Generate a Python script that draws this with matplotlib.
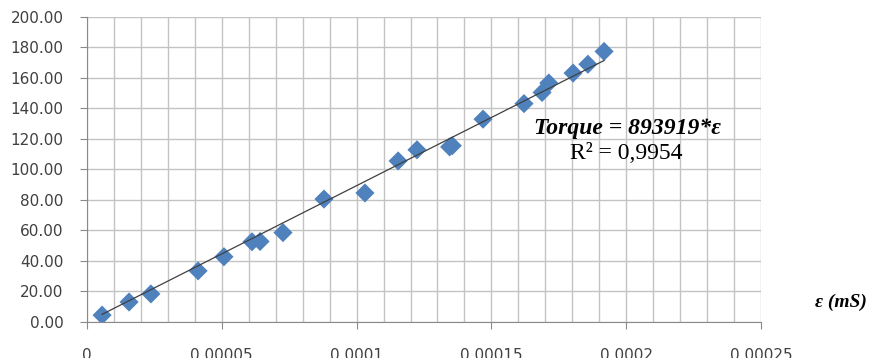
import matplotlib
matplotlib.use("Agg")
import matplotlib.pyplot as plt
import numpy as np
from matplotlib.ticker import MultipleLocator, FuncFormatter

strain = [5.6e-6, 1.56e-5, 2.37e-5, 4.12e-5, 5.08e-5, 6.12e-5, 6.42e-5, 7.27e-5,
          8.79e-5, 1.031e-4, 1.154e-4, 1.224e-4, 1.345e-4, 1.355e-4, 1.469e-4,
          1.621e-4, 1.688e-4, 1.713e-4, 1.803e-4, 1.858e-4, 1.918e-4]
torque = [4.5, 13.1, 18.4, 33.5, 42.8, 52.6, 52.8, 58.6,
          80.6, 84.6, 105.6, 112.9, 114.8, 115.6, 133.0,
          143.2, 150.5, 156.7, 163.2, 169.0, 177.4]
slope = 893919
x_ticks = [0, 0.00005, 0.0001, 0.00015, 0.0002, 0.00025]
x_tick_labels = ["0", "0.00005", "0.0001", "0.00015", "0.0002", "0.00025"]

fig = plt.figure(figsize=(8.7, 3.58), dpi=100)
ax = fig.add_axes([0.1, 0.1006, 0.7747, 0.852])

ax.set_xlim(0, 0.00025)
ax.set_ylim(0, 200)
ax.xaxis.set_minor_locator(MultipleLocator(0.00001))
ax.set_xticks(x_ticks)
ax.set_xticklabels(x_tick_labels)
ax.set_yticks(np.arange(0, 201, 20))
ax.yaxis.set_major_formatter(FuncFormatter(lambda v, p: f"{v:.2f}"))

ax.grid(True, which="both", axis="x", color="#c3c3c3", linewidth=1)
ax.grid(True, which="major", axis="y", color="#c3c3c3", linewidth=1)
ax.set_axisbelow(True)

for s in ["top", "right"]:
    ax.spines[s].set_visible(False)
for s in ["left", "bottom"]:
    ax.spines[s].set_color("#8a8a8a")

ax.tick_params(axis="x", which="major", length=5, color="#8a8a8a", pad=14,
               labelsize=11, labelcolor="#404040")
ax.tick_params(axis="x", which="minor", length=0)
ax.tick_params(axis="y", length=5, color="#8a8a8a", pad=12,
               labelsize=11, labelcolor="#404040")

ax.scatter(strain, torque, marker="D", s=95, color="#4f81bd", zorder=3,
           edgecolors="none")
xl = np.array([min(strain), max(strain)])
ax.plot(xl, slope * xl, color="#404040", linewidth=0.9, zorder=4)

ax.text(0.0002005, 127, "Torque = 893919*ε", fontfamily="Liberation Serif",
        fontweight="bold", fontstyle="italic", fontsize=17, ha="center",
        va="center", zorder=5)
ax.text(0.0002, 110.5, "R² = 0,9954", fontfamily="Liberation Serif",
        fontsize=17, ha="center", va="center", zorder=5)

fig.text(841 / 870, 1 - 302 / 358, "ε (mS)", fontfamily="Liberation Serif",
         fontweight="bold", fontstyle="italic", fontsize=14, ha="center",
         va="center")

fig.savefig("out.png", dpi=100)
